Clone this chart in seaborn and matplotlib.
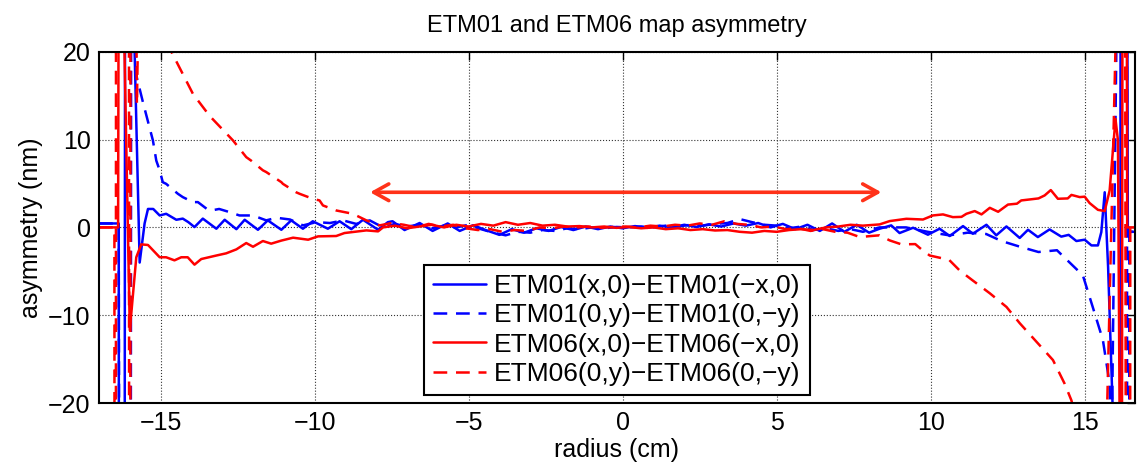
import numpy as np
import pandas as pd
import matplotlib
matplotlib.use('Agg')
import matplotlib.pyplot as plt
import seaborn as sns

# ETM01 (x,0)-(-x,0)
r_01x = [-17.0, -16.36, -16.3, -16.22, -16.1, -15.98, -15.68, -15.52, -15.41, -15.24,
         -15.03, -14.82, -14.49, -14.28, -14.1, -13.9, -13.63, -13.19, -12.92, -12.54,
         -12.27, -11.84, -11.52, -11.08, -10.76, -10.38, -10.06, -9.57, -9.19, -8.81,
         -8.43, -7.94, -7.62, -7.47, -7.08, -6.59, -6.17, -5.68, -5.29, -4.85,
         -4.45, -4.0, -3.6, -3.2, -2.8, -2.4, -2.0, -1.6, -1.2, -0.8,
         -0.4, 0.0, 0.4, 0.8, 1.2, 1.6, 2.0, 2.4, 2.8, 3.2,
         3.6, 4.0, 4.4, 4.8, 5.2, 5.6, 6.0, 6.4, 6.8, 7.2,
         7.6, 8.0, 8.34, 8.72, 8.99, 9.43, 9.91, 10.29, 10.62, 11.05,
         11.37, 11.81, 12.13, 12.46, 12.89, 13.16, 13.48, 13.86, 14.24, 14.48,
         14.73, 15.0, 15.22, 15.43, 15.54, 15.65, 15.76, 15.95, 16.1, 16.22,
         16.35, 16.4, 16.62]
v_01x = [0.45, 0.45, -300, -300, 300, 40, -4.0, 0.45, 2.1, 2.1,
         1.36, 1.55, 0.87, 1.0, 0.6, 0.04, 1.0, -0.15, 0.87, -0.2,
         0.87, -0.27, 0.8, -0.27, 0.8, -0.15, 0.7, -0.15, 0.7, -0.2,
         0.87, -0.27, 0.6, 0.7, -0.3, 0.5, -0.4, 0.45, -0.4, 0.25,
         -0.3, -0.85, -0.2, -0.6, -0.1, -0.4, 0.05, -0.3, 0.1, -0.2,
         0.1, -0.1, 0.15, -0.05, 0.2, 0.0, 0.3, 0.05, 0.35, 0.1,
         0.45, 0.2, 0.5, 0.0, 0.4, -0.2, 0.3, -0.4, 0.45, -0.5,
         0.3, -0.6, -0.15, 0.23, -0.64, -0.04, -0.83, -0.15, -0.98, 0.15,
         -0.72, 0.3, -0.9, 0.11, -1.2, -0.27, -1.1, -0.23, -1.05, -0.85,
         -1.55, -1.4, -2.05, -2.05, -0.53, 4.0, -4.5, -25, -300, 300,
         80, -0.5, -0.5]

# ETM01 (0,y)-(0,-y)
r_01y = [-17.0, -16.36, -16.2, -16.02, -15.95, -15.81, -15.57, -15.25, -15.14, -15.03,
         -14.93, -14.82, -14.44, -14.28, -13.95, -13.79, -13.46, -13.35, -13.1, -12.76,
         -12.44, -12.0, -11.57, -11.24, -10.8, -10.38, -9.94, -9.5, -9.08, -8.65,
         -8.21, -7.78, -7.4, -7.0, -6.6, -6.2, -5.8, -5.4, -5.0, -4.6,
         -4.2, -3.8, -3.4, -3.0, -2.6, -2.2, -1.8, -1.4, -1.0, -0.6,
         -0.2, 0.2, 0.6, 1.0, 1.4, 1.8, 2.2, 2.6, 3.0, 3.4,
         3.8, 4.2, 4.6, 5.0, 5.4, 5.8, 6.2, 6.6, 7.0, 7.4,
         7.8, 8.34, 9.2, 9.9, 10.6, 11.2, 11.8, 12.3, 12.9, 13.5,
         14.1, 14.6, 14.94, 15.26, 15.59, 15.81, 15.86, 16.06, 16.2, 16.35,
         16.4, 16.45, 16.62]
v_01y = [0.45, 0.45, -300, -300, 60, 17.6, 14.2, 9.9, 7.6, 6.5,
         5.15, 4.96, 3.83, 3.45, 2.88, 2.88, 2.0, 1.93, 2.1, 1.74,
         1.36, 1.36, 0.8, 1.1, 0.9, 0.23, 0.6, 0.5, 0.8, 0.4,
         0.8, 0.0, 0.4, 0.1, 0.3, -0.1, 0.2, 0.0, 0.3, -0.2,
         -0.6, -0.9, -0.5, -0.6, -0.3, -0.4, -0.1, -0.2, 0.0, -0.1,
         0.05, 0.0, 0.1, 0.0, 0.2, 0.1, 0.3, 0.2, 0.4, 0.5,
         0.95, 0.6, 0.3, 0.2, -0.1, 0.1, -0.3, -0.1, -0.4, -0.2,
         -0.5, 0.0, 0.0, -0.5, -0.9, -0.6, -0.75, -1.55, -2.2, -2.8,
         -2.6, -4.3, -5.45, -9.05, -12.8, -17.8, -30, 30, 300, 300,
         -300, -0.5, -0.5]

# ETM06 (x,0)-(-x,0)
r_06x = [-17.0, -16.38, -16.33, -16.2, -16.0, -15.79, -15.63, -15.41, -15.03, -14.82,
         -14.55, -14.33, -14.12, -13.9, -13.68, -13.19, -12.87, -12.54, -12.22, -12.0,
         -11.68, -11.41, -11.08, -10.7, -10.21, -9.89, -9.3, -9.03, -8.32, -7.94,
         -7.78, -7.4, -7.0, -6.6, -6.2, -5.8, -5.4, -5.0, -4.6, -4.2,
         -3.8, -3.4, -3.0, -2.6, -2.2, -1.8, -1.4, -1.0, -0.6, -0.2,
         0.2, 0.6, 1.0, 1.4, 1.8, 2.2, 2.6, 3.0, 3.4, 3.8,
         4.2, 4.6, 5.0, 5.4, 5.8, 6.2, 6.6, 7.0, 7.4, 7.8,
         8.34, 8.67, 9.21, 9.75, 10.07, 10.4, 10.72, 11.0, 11.16, 11.43,
         11.65, 11.92, 12.19, 12.51, 12.8, 12.94, 13.21, 13.5, 13.7, 13.9,
         14.13, 14.45, 14.57, 14.84, 15.0, 15.16, 15.43, 15.65, 15.81, 16.0,
         16.08, 16.2, 16.28, 16.38, 16.62]
v_06x = [0.0, 0.0, 80, 25, -11.7, -3.4, -1.93, -2.0, -3.4, -3.4,
         -3.75, -3.4, -3.4, -4.24, -3.6, -3.2, -2.95, -2.5, -1.78, -2.2,
         -1.55, -1.85, -1.5, -1.17, -1.4, -1.02, -0.98, -0.64, -0.34, -0.45,
         0.0, 0.2, -0.1, 0.1, 0.3, 0.0, 0.3, 0.1, 0.4, 0.2,
         0.6, 0.3, 0.5, 0.2, 0.3, 0.1, 0.15, 0.0, 0.1, -0.05,
         0.05, -0.1, 0.0, -0.2, -0.1, -0.3, -0.2, -0.35, -0.3, -0.5,
         -0.6, -0.4, -0.5, -0.3, -0.2, -0.3, 0.0, 0.1, 0.3, 0.2,
         0.34, 0.72, 0.98, 0.9, 1.36, 1.48, 1.17, 1.2, 1.55, 1.86,
         1.48, 2.23, 1.78, 2.6, 2.7, 3.07, 3.18, 3.3, 3.64, 4.25,
         3.26, 3.3, 3.7, 3.45, 3.5, 2.77, 2.0, 1.86, 4.2, 12.35,
         9.9, -60, 200, 0.0, 0.0]

# ETM06 (0,y)-(0,-y)
r_06y = [-17.0, -16.5, -16.47, -16.43, -16.05, -16.0, -15.96, -15.85, -15.77, -15.65,
         -15.2, -14.65, -13.95, -13.41, -12.65, -12.22, -12.06, -11.68, -11.57, -11.08,
         -11.03, -10.6, -10.49, -10.06, -9.84, -9.73, -9.3, -8.76, -8.32, -7.89,
         -7.5, -7.1, -6.7, -6.3, -5.9, -5.5, -5.1, -4.7, -4.3, -3.9,
         -3.5, -3.1, -2.7, -2.3, -1.9, -1.5, -1.1, -0.7, -0.3, 0.1,
         0.5, 0.9, 1.3, 1.7, 2.1, 2.5, 2.9, 3.3, 3.7, 4.1,
         4.5, 4.9, 5.3, 5.7, 6.1, 6.5, 6.9, 7.3, 7.7, 8.0,
         8.34, 8.67, 9.05, 9.5, 9.7, 9.97, 10.29, 10.6, 10.94, 11.35,
         11.92, 12.46, 12.89, 13.43, 13.97, 14.35, 14.57, 15.0, 15.6, 16.05,
         16.3, 16.44, 16.48, 16.62]
v_06y = [0.0, 0.0, -300, 300, 300, -300, 300, 60, 14, 40,
         24, 20, 15.2, 12.7, 9.9, 8.0, 7.6, 6.5, 6.3, 5.15,
         4.96, 4.0, 3.83, 3.26, 3.07, 2.5, 1.93, 1.55, 0.8, 0.23,
         0.5, 0.3, 0.0, 0.4, 0.1, 0.3, -0.1, -0.3, -0.2, -0.5,
         -0.3, -0.4, 0.0, -0.1, 0.1, 0.0, 0.1, -0.05, 0.05, 0.1,
         0.0, 0.2, 0.1, 0.3, 0.2, 0.45, 0.3, 0.7, 0.4, 0.3,
         0.0, 0.1, -0.2, -0.1, -0.4, -0.2, -0.5, -0.6, -1.1, -1.0,
         -0.9, -1.48, -1.93, -1.9, -2.5, -3.2, -3.45, -3.7, -4.9, -6.0,
         -7.5, -9.05, -10.9, -13.0, -15.1, -17.8, -19.7, -26, -40, 28,
         60, -300, 0.0, 0.0]

labels = ['ETM01(x,0)\u2212ETM01(\u2212x,0)', 'ETM01(0,y)\u2212ETM01(0,\u2212y)',
          'ETM06(x,0)\u2212ETM06(\u2212x,0)', 'ETM06(0,y)\u2212ETM06(0,\u2212y)']

arrow_x = [-8.2, 8.4]
arrow_y = 4.0

sns.set_theme(style='white', rc={'text.color': 'black', 'axes.labelcolor': 'black',
                                 'xtick.color': 'black', 'ytick.color': 'black'})
plt.rcParams['font.family'] = ['Liberation Sans', 'DejaVu Sans']
plt.rcParams['axes.unicode_minus'] = True

fig = plt.figure(figsize=(11.38, 4.66), dpi=100)
ax = fig.add_axes([0.087, 0.135, 0.910, 0.754])

series = [(r_01x, v_01x, 'blue', '-'), (r_01y, v_01y, 'blue', '--'),
          (r_06x, v_06x, 'red', '-'), (r_06y, v_06y, 'red', '--')]
for (rr, vv, col, ls), lab in zip(series, labels):
	df = pd.DataFrame({'r': rr, 'v': vv})
	kw = dict(dashes=(5.5, 3.5)) if ls == '--' else {}
	sns.lineplot(data=df, x='r', y='v', color=col, linewidth=1.8, label=lab,
	             sort=False, estimator=None, ax=ax, **kw)

ax.annotate('', xy=(arrow_x[1], arrow_y), xytext=(arrow_x[0], arrow_y),
            arrowprops=dict(arrowstyle='<->,head_length=0.9,head_width=0.5',
                            color='#ff3219', lw=2.6, shrinkA=0, shrinkB=0))

ax.set_xlim(-17, 16.62)
ax.set_ylim(-20, 20)
ax.set_xticks([-15, -10, -5, 0, 5, 10, 15])
ax.set_yticks([-20, -10, 0, 10, 20])
ax.tick_params(direction='in', length=6, width=1, top=True, right=True,
               labelsize=18, colors='black', pad=6)
ax.grid(True, linestyle=':', color='#333333', linewidth=0.8)
for s in ax.spines.values():
	s.set_color('black')
	s.set_linewidth(1.5)

ax.set_xlabel('radius (cm)', fontsize=18, labelpad=2, color='black')
ax.set_ylabel('asymmetry (nm)', fontsize=18, labelpad=4, color='black')
ax.set_title('ETM01 and ETM06 map asymmetry', fontsize=17, pad=14, color='black')

leg = ax.legend(loc='lower center', fontsize=19, handlelength=2.0, handletextpad=0.3,
                labelspacing=0.2, borderpad=0.35, borderaxespad=0.3,
                fancybox=False, framealpha=1, edgecolor='black')
leg.get_frame().set_linewidth(1.5)
for t in leg.get_texts():
	t.set_color('black')

fig.savefig('out.png', dpi=100)
